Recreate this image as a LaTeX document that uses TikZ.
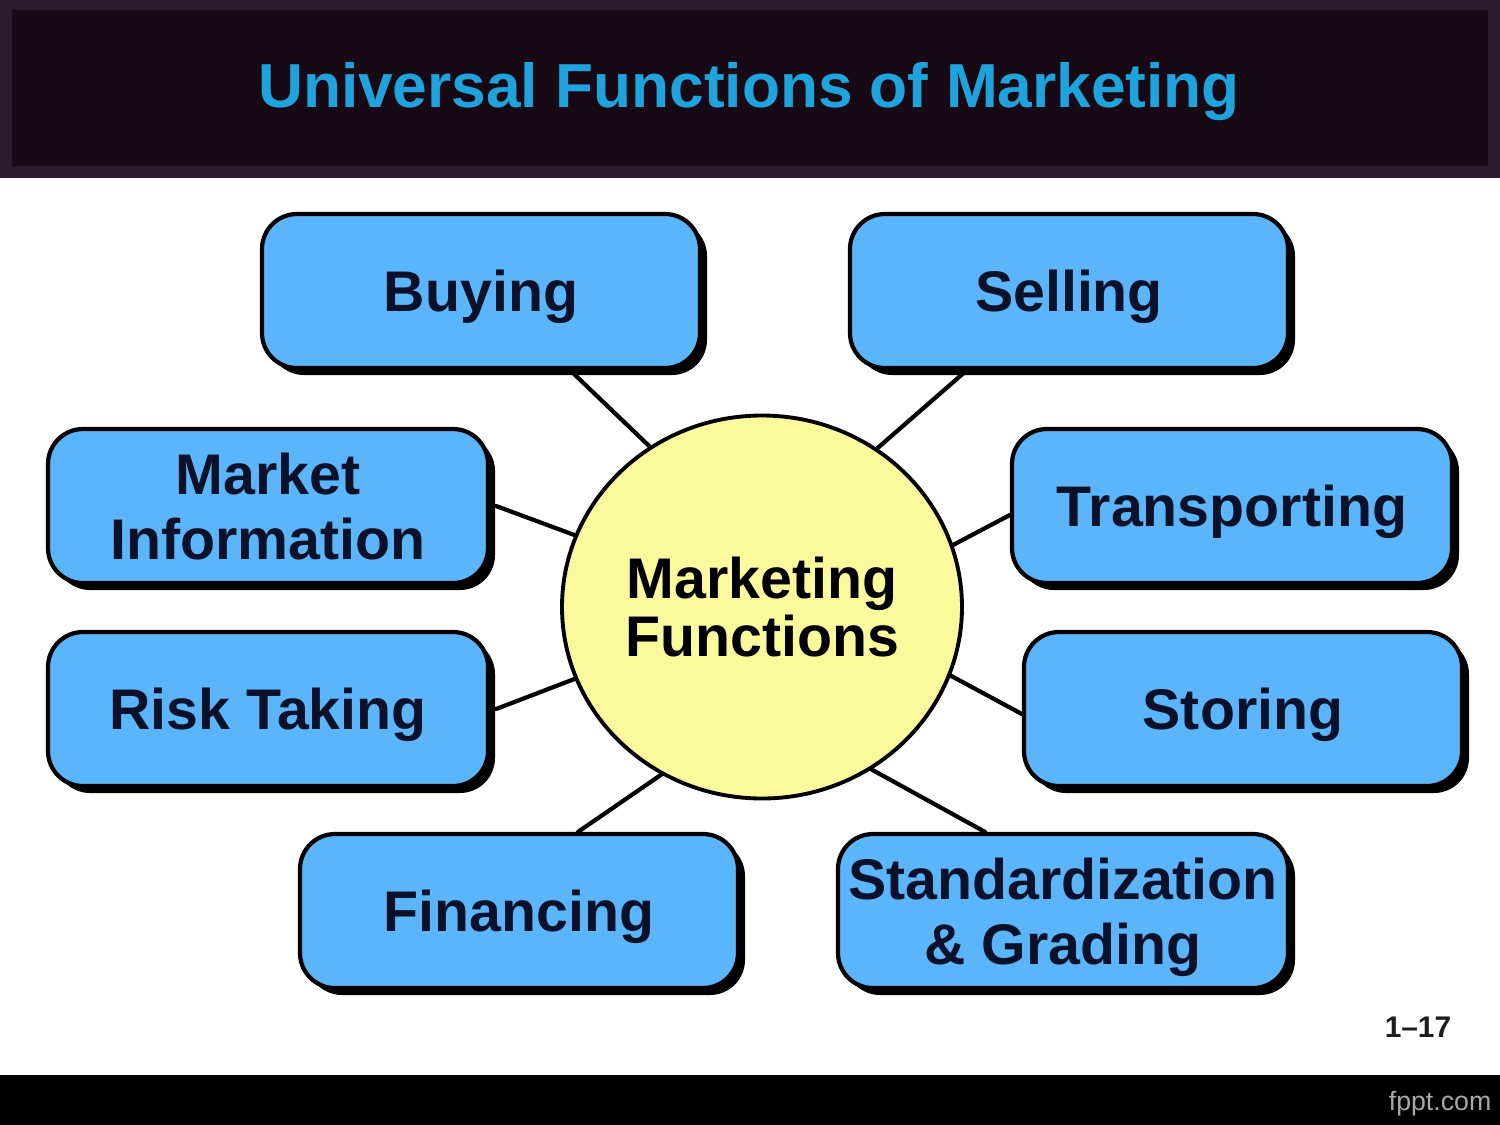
\documentclass[tikz,border=0pt]{standalone}
\usepackage{fontspec}
\setmainfont{Liberation Sans}
\usepackage{xcolor}
\usepackage{tikz}
\usetikzlibrary{positioning,calc,shapes.geometric,shadows}
\definecolor{frameplum}{HTML}{2B1B2D}
\definecolor{bandink}{HTML}{180A15}
\definecolor{titlecyan}{HTML}{1FA3DD}
\definecolor{boxblue}{HTML}{5BB5FA}
\definecolor{boxtext}{HTML}{0B1128}
\definecolor{hubyellow}{HTML}{FAF99C}
\definecolor{pageink}{HTML}{1E1E1E}
\definecolor{footgray}{HTML}{A8A8A8}
\newcommand{\titlefont}{\fontsize{17.7}{20}\selectfont\bfseries}
\newcommand{\boxfont}{\fontsize{16.3}{18.5}\selectfont\bfseries}
\newcommand{\hubfont}{\fontsize{16.3}{16.5}\selectfont\bfseries}
\tikzset{
    every picture/.style={line cap=round,line join=round},
    fnbox/.style={draw=black,fill=boxblue,line width=1.2pt,rounded corners=3.5mm,
      minimum width=43.8mm,minimum height=15.4mm,inner sep=1pt,text depth=0pt,
      text=boxtext,align=center,font=\boxfont,
      general shadow={fill=black,shadow xshift=0.7mm,shadow yshift=-0.7mm}},
    hub/.style={ellipse,draw=black,fill=hubyellow,line width=1.1pt,
      minimum width=40mm,minimum height=38.3mm,inner sep=0pt,text depth=0pt,
      text=black,align=center,font=\hubfont},
    spoke/.style={draw=black,line width=1.2pt}
}
\begin{document}
\begin{tikzpicture}
  \useasboundingbox (0,0) rectangle (15,-11.25);
  % title band
  \fill[frameplum] (0,0) rectangle (15,-1.78);
  \fill[bandink] (0.12,-0.10) rectangle (14.88,-1.66);
  \node[anchor=base,text=titlecyan,font=\titlefont] (title) at (7.49,-1.07)
    {Universal Functions of Marketing};
  % hub and the eight functions
  \node[hub] (mf) at (7.62,-6.07) {Marketing\\Functions};
  \node[fnbox] (buy) at (4.81,-2.91) {Buying};
  \node[fnbox] (sell) at (10.69,-2.91) {Selling};
  \node[fnbox,minimum width=44mm] (info) at (2.68,-5.06) {Market\\Information};
  \node[fnbox,minimum width=44mm] (trans) at (12.32,-5.06) {Transporting};
  \node[fnbox,minimum width=44mm] (risk) at (2.68,-7.09) {Risk Taking};
  \node[fnbox] (store) at (12.43,-7.09) {Storing};
  \node[fnbox] (fin) at (5.19,-9.11) {Financing};
  \node[fnbox,minimum width=45mm] (std) at (10.63,-9.11) {Standardization\\\& Grading};
  % spokes
  \draw[spoke] ([xshift=8.9mm]buy.south) -- (mf.125);
  \draw[spoke] ([xshift=-10.2mm]sell.south) -- (mf.54);
  \draw[spoke] ([xshift=0.6mm]info.east) -- (mf.159);
  \draw[spoke] ([yshift=-0.9mm]trans.west) -- (mf.18);
  \draw[spoke] ([xshift=0.6mm]risk.east) -- (mf.201);
  \draw[spoke] ([yshift=-0.5mm]store.west) -- (mf.-20);
  \draw[spoke] ([xshift=5.9mm]fin.north) -- (mf.239);
  \draw[spoke] ([xshift=-7.8mm]std.north) -- (mf.304);
  % footer
  \node[anchor=base,text=pageink,font=\fontsize{8.5}{10}\selectfont\bfseries] (pg)
    at (14.18,-10.37) {1--17};
  \fill[black] (0,-10.75) rectangle (15,-11.25);
  \node[anchor=base east,inner sep=0pt,text=footgray,font=\fontsize{7.6}{9}\selectfont] (site)
    at (14.92,-11.10) {fppt.com};
\end{tikzpicture}
\end{document}
